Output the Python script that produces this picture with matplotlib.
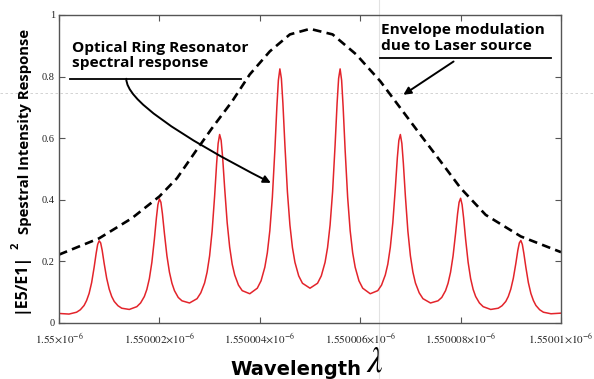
import matplotlib
matplotlib.use("Agg")
import matplotlib.pyplot as plt
from matplotlib.lines import Line2D

plt.rcParams["mathtext.fontset"] = "stix"

# wavelength offsets from 1.55e-6 m, in pm (1e-12 m)
ring_x = [
    0.0, 0.1,
    0.2, 0.35, 0.425, 0.5, 0.55, 0.6, 0.65, 0.7, 0.74, 0.77,
    0.8, 0.83, 0.86, 0.9, 0.95, 1.0, 1.05, 1.1, 1.175, 1.25,
    1.4, 1.55, 1.625, 1.7, 1.75, 1.8, 1.85, 1.9, 1.94, 1.97,
    2.0, 2.03, 2.06, 2.1, 2.15, 2.2, 2.25, 2.3, 2.375, 2.45,
    2.6, 2.75, 2.825, 2.9, 2.95, 3.0, 3.05, 3.1, 3.14, 3.17,
    3.2, 3.23, 3.26, 3.3, 3.35, 3.4, 3.45, 3.5, 3.575, 3.65,
    3.8, 3.95, 4.025, 4.1, 4.15, 4.2, 4.25, 4.3, 4.34, 4.37,
    4.4, 4.43, 4.46, 4.5, 4.55, 4.6, 4.65, 4.7, 4.775, 4.85,
    5.0, 5.15, 5.225, 5.3, 5.35, 5.4, 5.45, 5.5, 5.54, 5.57,
    5.6, 5.63, 5.66, 5.7, 5.75, 5.8, 5.85, 5.9, 5.975, 6.05,
    6.2, 6.35, 6.425, 6.5, 6.55, 6.6, 6.65, 6.7, 6.74, 6.77,
    6.8, 6.83, 6.86, 6.9, 6.95, 7.0, 7.05, 7.1, 7.175, 7.25,
    7.4, 7.55, 7.625, 7.7, 7.75, 7.8, 7.85, 7.9, 7.94, 7.97,
    8.0, 8.03, 8.06, 8.1, 8.15, 8.2, 8.25, 8.3, 8.375, 8.45,
    8.6, 8.75, 8.825, 8.9, 8.95, 9.0, 9.05, 9.1, 9.14, 9.17,
    9.2, 9.23, 9.26, 9.3, 9.35, 9.4, 9.45, 9.5, 9.575, 9.65,
    9.8, 9.9, 10.0,
]
ring_y = [
    0.031, 0.030,
    0.029, 0.035, 0.043, 0.057, 0.073, 0.096, 0.131, 0.181, 0.226, 0.255,
    0.267, 0.260, 0.236, 0.193, 0.145, 0.110, 0.086, 0.070, 0.056, 0.048,
    0.044, 0.053, 0.065, 0.086, 0.109, 0.144, 0.197, 0.272, 0.341, 0.384,
    0.403, 0.392, 0.355, 0.291, 0.218, 0.165, 0.129, 0.105, 0.083, 0.072,
    0.065, 0.079, 0.098, 0.130, 0.165, 0.218, 0.298, 0.412, 0.518, 0.583,
    0.612, 0.593, 0.537, 0.438, 0.326, 0.246, 0.191, 0.156, 0.123, 0.105,
    0.095, 0.113, 0.137, 0.181, 0.228, 0.300, 0.408, 0.561, 0.702, 0.788,
    0.825, 0.794, 0.714, 0.578, 0.426, 0.318, 0.245, 0.197, 0.153, 0.129,
    0.113, 0.129, 0.153, 0.197, 0.245, 0.318, 0.426, 0.578, 0.714, 0.794,
    0.825, 0.788, 0.702, 0.561, 0.408, 0.300, 0.228, 0.181, 0.137, 0.113,
    0.095, 0.105, 0.123, 0.156, 0.191, 0.246, 0.326, 0.438, 0.537, 0.593,
    0.612, 0.583, 0.518, 0.412, 0.298, 0.218, 0.165, 0.130, 0.098, 0.079,
    0.065, 0.072, 0.083, 0.105, 0.129, 0.165, 0.218, 0.291, 0.355, 0.392,
    0.405, 0.384, 0.341, 0.272, 0.197, 0.144, 0.109, 0.086, 0.065, 0.053,
    0.044, 0.048, 0.056, 0.070, 0.086, 0.110, 0.145, 0.193, 0.236, 0.260,
    0.268, 0.255, 0.226, 0.181, 0.131, 0.096, 0.073, 0.057, 0.043, 0.035,
    0.030, 0.031, 0.032,
]

# laser envelope (dashed)
env_x = [0.0, 0.8, 1.45, 2.0, 2.35, 2.72, 3.05, 3.45, 3.8, 4.2, 4.6, 5.0,
         5.45, 5.92, 6.4, 6.8, 7.2, 7.6, 8.0, 8.5, 9.2, 10.0]
env_y = [0.222, 0.275, 0.340, 0.411, 0.470, 0.557, 0.633, 0.720, 0.807, 0.882,
         0.937, 0.955, 0.937, 0.872, 0.785, 0.698, 0.611, 0.525, 0.438, 0.351,
         0.281, 0.230]

x_ticks = [0, 2, 4, 6, 8, 10]
x_labels = [r"$1.55{\times}10^{-6}$", r"$1.550002{\times}10^{-6}$",
            r"$1.550004{\times}10^{-6}$", r"$1.550006{\times}10^{-6}$",
            r"$1.550008{\times}10^{-6}$", r"$1.55001{\times}10^{-6}$"]
y_ticks = [0, 0.2, 0.4, 0.6, 0.8, 1.0]
y_labels = ["0", "0.2", "0.4", "0.6", "0.8", "1"]

W, H = 594, 379
fig = plt.figure(figsize=(W / 100, H / 100), dpi=100)
ax = fig.add_axes([59 / W, 1 - 323 / H, 502 / W, 308 / H])
ax.patch.set_alpha(0)

ax.plot(ring_x, ring_y, color="#e3242b", lw=1.1)
ax.plot(env_x, env_y, color="black", lw=1.9, dashes=(3.3, 2.0))

ax.set_xlim(0, 10)
ax.set_ylim(0, 1)
ax.set_xticks(x_ticks)
ax.set_xticklabels(x_labels)
ax.set_yticks(y_ticks)
ax.set_yticklabels(y_labels, family="Liberation Serif")
ax.tick_params(axis="x", direction="in", top=True, length=4, width=0.8,
               color="#555555", labelsize=8, pad=6, labelcolor="#222222")
ax.tick_params(axis="y", direction="in", right=True, length=4, width=0.8,
               color="#555555", labelsize=7.5, pad=3, labelcolor="#222222")
for s in ax.spines.values():
    s.set_color("#555555")
    s.set_linewidth(1.0)

# faint screen-capture guide lines
fig.add_artist(Line2D([0, 1], [1 - 93 / H] * 2, transform=fig.transFigure,
                      color="#cccccc", lw=0.6, ls=(0, (3, 3)), zorder=-1))
fig.add_artist(Line2D([379 / W] * 2, [0, 1], transform=fig.transFigure,
                      color="#e2e2e2", lw=0.8, zorder=-1))

bold = dict(family="Open Sans", weight="bold", color="black")

# annotation: ring resonator
ax.text(0.26, 0.917, "Optical Ring Resonator\nspectral response",
        fontsize=11.1, va="top", ha="left", linespacing=1.15, **bold)
ax.plot([0.22, 3.62], [0.793, 0.793], color="black", lw=1.3)
ax.annotate("", xy=(4.22, 0.455), xytext=(1.34, 0.793),
            arrowprops=dict(arrowstyle="-|>", color="black", lw=1.4,
                            mutation_scale=11, shrinkA=0, shrinkB=0,
                            connectionstyle="angle3,angleA=90,angleB=-27"))

# annotation: envelope
ax.text(6.42, 0.975, "Envelope modulation\ndue to Laser source",
        fontsize=11.1, va="top", ha="left", linespacing=1.2, **bold)
ax.plot([6.40, 9.80], [0.862, 0.862], color="black", lw=1.3)
ax.annotate("", xy=(6.86, 0.741), xytext=(7.86, 0.849),
            arrowprops=dict(arrowstyle="-|>", color="black", lw=1.4,
                            mutation_scale=11, shrinkA=0, shrinkB=0))

# y label in three pieces (mixed sizes)
fig.text(25 / W, 1 - 313 / H, "|E5/E1|", rotation=90, rotation_mode="anchor",
         ha="left", va="baseline", fontsize=11.5, **bold)
fig.text(19 / W, 1 - 249 / H, "2", rotation=90, rotation_mode="anchor",
         ha="left", va="baseline", fontsize=8, **bold)
fig.text(29 / W, 1 - 234 / H, "Spestral Intensity Response", rotation=90,
         rotation_mode="anchor", ha="left", va="baseline", fontsize=10.7,
         **bold)

# x label
fig.text(230 / W, 1 - 375 / H, "Wavelength", ha="left", va="baseline",
         fontsize=14, family="DejaVu Sans", weight="bold")
fig.text(366 / W, 1 - 378.5 / H, r"$\lambda$", ha="left", va="bottom",
         fontsize=25)

fig.savefig("out.png", dpi=100)
